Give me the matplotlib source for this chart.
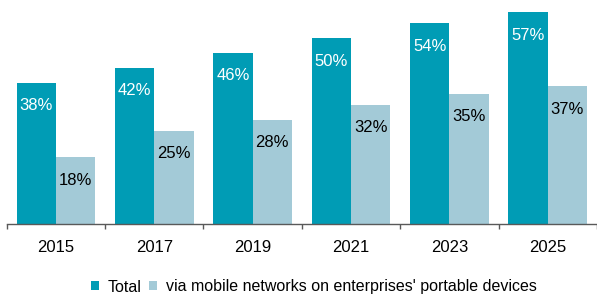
import numpy as np
import matplotlib as mpl
import matplotlib.pyplot as plt
mpl.rcParams['font.family'] = ['Liberation Sans', 'DejaVu Sans']

# Data
years = ['2015', '2017', '2019', '2021', '2023', '2025']
total = [38, 42, 46, 50, 54, 57]
mobile = [18, 25, 28, 32, 35, 37]
series_names = ['Total', "via mobile networks on enterprises' portable devices"]

c_total = '#009cb5'
c_mobile = '#a3cad7'

fig = plt.figure(figsize=(5.97, 2.95), dpi=100)
ax = fig.add_axes([6.7 / 597, 1 - 224 / 295, 1 - 6.7 / 597, 223 / 295])

x = np.arange(len(years))
w = 0.4
b1 = ax.bar(x - w / 2, total, w, color=c_total, label=series_names[0])
b2 = ax.bar(x + w / 2, mobile, w, color=c_mobile, label=series_names[1])

# value labels inside bars
for rect, v in zip(b1, total):
    ax.annotate(f'{v}%', (rect.get_x() + rect.get_width() / 2, rect.get_height()),
                xytext=(0, -16.5), textcoords='offset points',
                ha='center', va='center', color='white', fontsize=12)
for rect, v in zip(b2, mobile):
    ax.annotate(f'{v}%', (rect.get_x() + rect.get_width() / 2, rect.get_height()),
                xytext=(0, -16.5), textcoords='offset points',
                ha='center', va='center', color='black', fontsize=12)

ax.set_xlim(-0.5, len(years) - 0.5)
ax.set_ylim(0, 60)

for s in ['top', 'right', 'left']:
    ax.spines[s].set_visible(False)
ax.spines['bottom'].set_color('#595959')
ax.spines['bottom'].set_linewidth(1)
ax.set_yticks([])

ax.set_xticks(x)
ax.set_xticklabels(years, fontsize=12)
ax.tick_params(axis='x', which='major', length=0, pad=11.5)
ax.set_xticks(np.arange(len(years) + 1) - 0.5, minor=True)
ax.tick_params(axis='x', which='minor', length=3.6, width=1, color='#595959')

fig.legend(loc='center', bbox_to_anchor=(314 / 597, 1 - 287 / 295), ncol=2,
           frameon=False, fontsize=11.5, handlelength=0.5, handleheight=0.5,
           handletextpad=0.55, columnspacing=0.5, borderpad=0)

fig.savefig('out.png', dpi=100)
